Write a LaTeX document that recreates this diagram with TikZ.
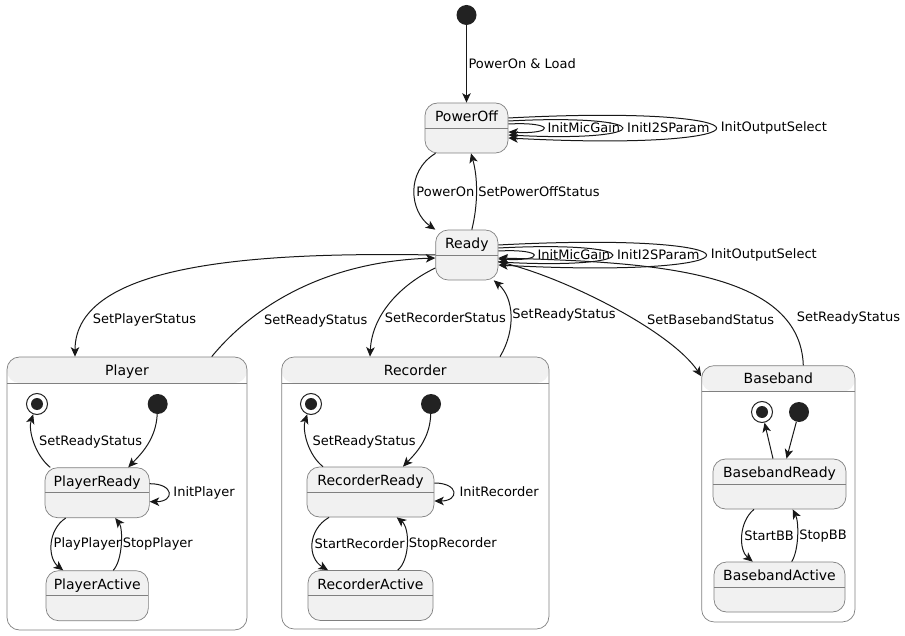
\documentclass[tikz,border=0pt]{standalone}
\usepackage{fontspec}
\setmainfont{DejaVu Sans}
\usetikzlibrary{arrows.meta, positioning}
\definecolor{statefill}{HTML}{F1F1F1}
\definecolor{stateline}{HTML}{181818}
\definecolor{stateborder}{HTML}{808080}
\definecolor{dotfill}{HTML}{222222}

\begin{document}
\begin{tikzpicture}[x=1pt, y=-1pt,
        statebox/.style={draw=stateborder, line width=0.7pt, fill=statefill, rounded corners=12.5pt,
            minimum height=50pt, inner sep=0pt, text height=18.5pt, text depth=31.5pt,
            font=\fontsize{14}{16}\selectfont,
            path picture={\draw[stateborder, line width=0.7pt] (path picture bounding box.west) -- (path picture bounding box.east);}},
        superstate/.style={draw=stateborder, line width=0.7pt, fill=white, rounded corners=12.5pt,
            inner sep=0pt, text height=18pt, font=\fontsize{14}{16}\selectfont,
            path picture={\fill[statefill] (path picture bounding box.north west) rectangle ([yshift=-26pt]path picture bounding box.north east);
                \draw[stateborder, line width=0.7pt] ([yshift=-26pt]path picture bounding box.north west) -- ([yshift=-26pt]path picture bounding box.north east);}},
        initdot/.style={circle, fill=dotfill, minimum size=20pt, inner sep=0pt},
        finaldot/.style={circle, draw=dotfill, line width=1pt, fill=white, minimum size=21pt, inner sep=0pt,
            path picture={\fill[dotfill] (path picture bounding box.center) circle (6pt);}},
        trans/.style={draw=stateline, line width=1pt, -{Stealth[length=9.5pt, width=8.5pt, inset=2.5pt]}},
        lbl/.style={font=\fontsize{13}{15}\selectfont, inner sep=1.5pt, text=black},
        loopin/.style={out=3, in=-3, out distance=47pt, in distance=47pt},
        loopmid/.style={out=3, in=-3, out distance=152pt, in distance=152pt},
        loopout/.style={out=3, in=-3, out distance=277pt, in distance=277pt},
        loopsub/.style={out=0, in=0, out distance=25pt, in distance=25pt},
    ]
    \useasboundingbox (0,0) rectangle (905,636);

    % top level states
    \node[initdot] (init) at (466.5,15) {};
    \node[statebox, minimum width=83pt] (poweroff) at (466.5,128) {PowerOff};
    \node[statebox, minimum width=62.3pt] (ready) at (466.8,255) {Ready};

    % composite states
    \node[superstate, minimum width=240pt, minimum height=273pt, text depth=255pt] (player) at (127,493.5) {Player};
    \node[superstate, minimum width=267.3pt, minimum height=272pt, text depth=254pt] (recorder) at (415.3,493) {Recorder};
    \node[superstate, minimum width=153.3pt, minimum height=256.3pt, text depth=238.3pt] (baseband) at (778.3,493.8) {Baseband};

    % inside Player
    \node[finaldot] (pfinal) at (37,404) {};
    \node[initdot] (pinit) at (157.7,404) {};
    \node[statebox, minimum width=104.3pt] (playerready) at (97.2,492.7) {PlayerReady};
    \node[statebox, minimum width=102.3pt] (playeractive) at (97.2,595.7) {PlayerActive};

    % inside Recorder
    \node[finaldot] (rfinal) at (311,404) {};
    \node[initdot] (rinit) at (431,404) {};
    \node[statebox, minimum width=127pt] (recready) at (370.5,492) {RecorderReady};
    \node[statebox, minimum width=125pt] (recactive) at (370.5,595.5) {RecorderActive};

    % inside Baseband
    \node[finaldot] (bbfinal) at (762,412) {};
    \node[initdot] (bbinit) at (799,412) {};
    \node[statebox, minimum width=133pt] (bbready) at (779.5,484) {BasebandReady};
    \node[statebox, minimum width=131pt] (bbactive) at (779.5,587) {BasebandActive};

    % top level transitions
    \draw[trans] (init) -- node[lbl, right] {PowerOn \& Load} (poweroff);
    \draw[trans] ([yshift=4pt]poweroff.east) to[loopin] node[lbl, right=2pt] {InitMicGain} ([yshift=-4pt]poweroff.east);
    \draw[trans] ([yshift=7pt]poweroff.east) to[loopmid] node[lbl, right=3pt] {InitI2SParam} ([yshift=-7pt]poweroff.east);
    \draw[trans] ([yshift=10pt]poweroff.east) to[loopout] node[lbl, right=3pt] {InitOutputSelect} ([yshift=-10pt]poweroff.east);
    \draw[trans] ([xshift=-31pt]poweroff.south) .. controls (405,172) and (410,212) .. (ready.north west)
        node[lbl, pos=0.5, right] {PowerOn};
    \draw[trans] ([xshift=5pt]ready.north) .. controls (478,205) and (478,178) .. ([xshift=4.5pt]poweroff.south)
        node[lbl, pos=0.5, right] {SetPowerOffStatus};
    \draw[trans] ([yshift=4pt]ready.east) to[loopin] node[lbl, right=2pt] {InitMicGain} ([yshift=-4pt]ready.east);
    \draw[trans] ([yshift=7pt]ready.east) to[loopmid] node[lbl, right=3pt] {InitI2SParam} ([yshift=-7pt]ready.east);
    \draw[trans] ([yshift=10pt]ready.east) to[loopout] node[lbl, right=3pt] {InitOutputSelect} ([yshift=-10pt]ready.east);

    \draw[trans] (ready.west) .. controls (260,252) and (75,262) .. ([xshift=-52pt]player.north)
        node[lbl, pos=0.85, right=4pt] {SetPlayerStatus};
    \draw[trans] ([xshift=84.7pt]player.north) .. controls (250,310) and (320,262) .. ([yshift=-3pt]ready.west)
        node[lbl, pos=0.26, right=14pt] {SetReadyStatus};
    \draw[trans] ([yshift=-13pt]ready.west) .. controls (400,285) and (372,315) .. ([xshift=-45.3pt]recorder.north)
        node[lbl, pos=0.65, right=2pt] {SetRecorderStatus};
    \draw[trans] ([xshift=84.7pt]recorder.north) .. controls (516,330) and (514,298) .. ([xshift=27pt]ready.south)
        node[lbl, pos=0.5, right] {SetReadyStatus};
    \draw[trans] ([yshift=-6.7pt]ready.east) .. controls (560,275) and (670,330) .. ([yshift=-11pt]baseband.north west)
        node[lbl, pos=0.6, right=11pt] {SetBasebandStatus};
    \draw[trans] ([xshift=25pt]baseband.north) .. controls (800,270) and (650,262) .. ([yshift=-3pt]ready.east)
        node[lbl, pos=0.2, right=10pt] {SetReadyStatus};

    % Player transitions
    \draw[trans] (pinit) .. controls (156,440) and (140,455) .. ([xshift=31pt]playerready.north);
    \draw[trans] ([xshift=-47pt]playerready.north) .. controls (35,455) and (28,430) .. (pfinal.-110)
        node[lbl, pos=0.5, right=3pt] {SetReadyStatus};
    \draw[trans] ([yshift=9pt]playerready.east) to[loopsub] node[lbl, right=3pt] {InitPlayer} ([yshift=-9pt]playerready.east);
    \draw[trans] ([xshift=-31.5pt]playerready.south) .. controls (47.5,530) and (47.5,558) .. ([xshift=-34pt]playeractive.north)
        node[lbl, pos=0.5, right] {PlayPlayer};
    \draw[trans] ([xshift=16pt]playeractive.north) .. controls (123,560) and (123,528) .. ([xshift=18pt]playerready.south)
        node[lbl, pos=0.5, right] {StopPlayer};

    % Recorder transitions
    \draw[trans] (rinit) .. controls (430,440) and (414,455) .. ([xshift=32.5pt]recready.north);
    \draw[trans] ([xshift=-47.5pt]recready.north) .. controls (308,455) and (302,430) .. (rfinal.-110)
        node[lbl, pos=0.5, right=3pt] {SetReadyStatus};
    \draw[trans] ([yshift=9pt]recready.east) to[loopsub] node[lbl, right=4.5pt] {InitRecorder} ([yshift=-9pt]recready.east);
    \draw[trans] ([xshift=-41.5pt]recready.south) .. controls (307.4,530) and (307.4,558) .. ([xshift=-42.5pt]recactive.north)
        node[lbl, pos=0.5, right] {StartRecorder};
    \draw[trans] ([xshift=27.2pt]recactive.north) .. controls (410,560) and (410,528) .. ([xshift=26.2pt]recready.south)
        node[lbl, pos=0.5, right] {StopRecorder};

    % Baseband transitions
    \draw[trans] (bbinit) -- ([xshift=7pt]bbready.north);
    \draw[trans] ([xshift=-6.5pt]bbready.north) -- (bbfinal);
    \draw[trans] ([xshift=-25.5pt]bbready.south) .. controls (738.6,522) and (738.6,550) .. ([xshift=-26.8pt]bbactive.north)
        node[lbl, pos=0.5, right] {StartBB};
    \draw[trans] ([xshift=12.2pt]bbactive.north) .. controls (799,550) and (799,522) .. ([xshift=13.2pt]bbready.south)
        node[lbl, pos=0.5, right] {StopBB};
\end{tikzpicture}
\end{document}
